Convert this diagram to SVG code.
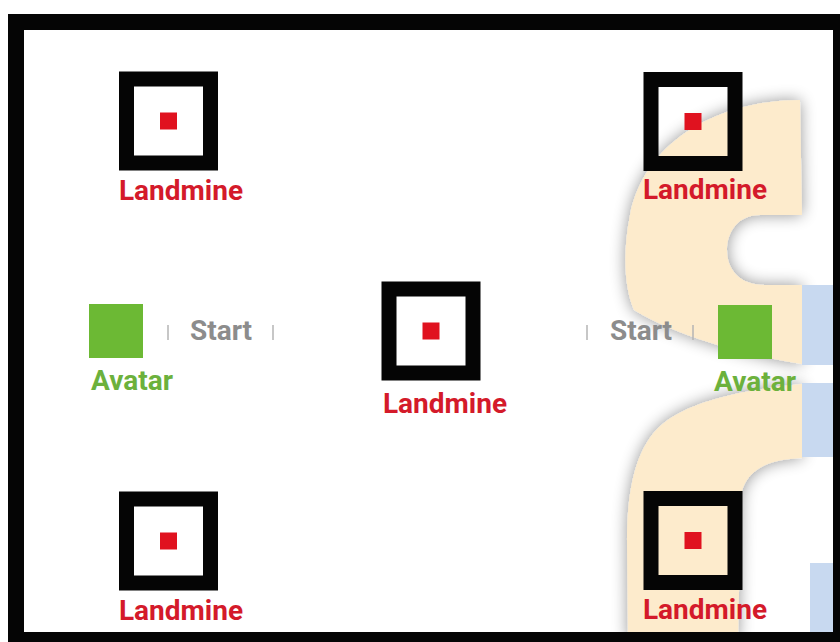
<svg xmlns="http://www.w3.org/2000/svg" width="840" height="642" viewBox="0 0 840 642">
<style>
.lbl{font-family:Roboto,"Liberation Sans",sans-serif;font-weight:700;font-size:28px;text-anchor:middle}
.mine{fill:#d41a2a}
.av{fill:#6cb13c}
.st{fill:#8c8c8c}
.box{fill:none;stroke:#050505;stroke-width:15}
.dot{fill:#e0121f}
.sq{fill:#6cb934}
.tick{stroke:#b5b5b5;stroke-width:1.5}
.or{fill:#fdebcc}
.bl{fill:#c8d9f0}
</style>
<defs>
<filter id="glow" x="-30%" y="-30%" width="160%" height="160%">
<feGaussianBlur in="SourceAlpha" stdDeviation="8"/>
<feComponentTransfer><feFuncA type="linear" slope="0.42"/></feComponentTransfer>
<feMerge><feMergeNode/><feMergeNode in="SourceGraphic"/></feMerge>
</filter>
</defs>
<rect width="840" height="642" fill="#fff"/>
<g id="background">
<path class="or" filter="url(#glow)" d="M800,100 C720,100 645,140 630,215 C622,255 625,290 634,310 C680,338 750,356 802,364 L802,285 L765,285 C740,285 727,270 727,250 C727,232 738,215 760,215 L802,215 Z"/>
<path class="or" filter="url(#glow)" d="M802,384 C740,390 685,402 658,428 C634,452 627,495 627,540 L628,640 L738,640 L741,497 C743,478 758,462 790,459 L802,458 Z"/>
<rect class="bl" x="802" y="285" width="31" height="80"/>
<rect class="bl" x="802" y="383" width="31" height="74"/>
<rect class="bl" x="810" y="563" width="23" height="75"/>
</g>
<rect id="frame" x="16" y="22" width="825" height="618" fill="none" stroke="#050505" stroke-width="16"/>
<g id="connectors">
<line class="tick" x1="168" y1="325" x2="168" y2="340"/>
<line class="tick" x1="273" y1="325" x2="273" y2="340"/>
<line class="tick" x1="587" y1="325" x2="587" y2="340"/>
<line class="tick" x1="693" y1="325" x2="693" y2="340"/>
</g>
<g id="mine-tl">
<rect class="box" x="126.5" y="79" width="84" height="84"/>
<rect class="dot" x="160" y="112.5" width="17" height="17"/>
<text class="lbl mine" x="181" y="200">Landmine</text>
</g>
<g id="mine-tr">
<rect class="box" x="651" y="79.5" width="84" height="84"/>
<rect class="dot" x="684.5" y="113" width="17" height="17"/>
<text class="lbl mine" x="705" y="199">Landmine</text>
</g>
<g id="mine-c">
<rect class="box" x="389" y="289" width="84" height="84"/>
<rect class="dot" x="422.5" y="322.5" width="17" height="17"/>
<text class="lbl mine" x="445" y="413">Landmine</text>
</g>
<g id="mine-bl">
<rect class="box" x="126.5" y="499" width="84" height="84"/>
<rect class="dot" x="160" y="532.5" width="17" height="17"/>
<text class="lbl mine" x="181" y="620">Landmine</text>
</g>
<g id="mine-br">
<rect class="box" x="651" y="498.5" width="84" height="84"/>
<rect class="dot" x="684.5" y="532" width="17" height="17"/>
<text class="lbl mine" x="705" y="619">Landmine</text>
</g>
<g id="avatar-l">
<rect class="sq" x="89" y="304" width="54" height="54"/>
<text class="lbl av" x="132" y="390">Avatar</text>
</g>
<g id="start-l">
<text class="lbl st" x="221" y="340">Start</text>
</g>
<g id="start-r">
<text class="lbl st" x="641" y="340">Start</text>
</g>
<g id="avatar-r">
<rect class="sq" x="718" y="305" width="54" height="54"/>
<text class="lbl av" x="755" y="391">Avatar</text>
</g>
</svg>
